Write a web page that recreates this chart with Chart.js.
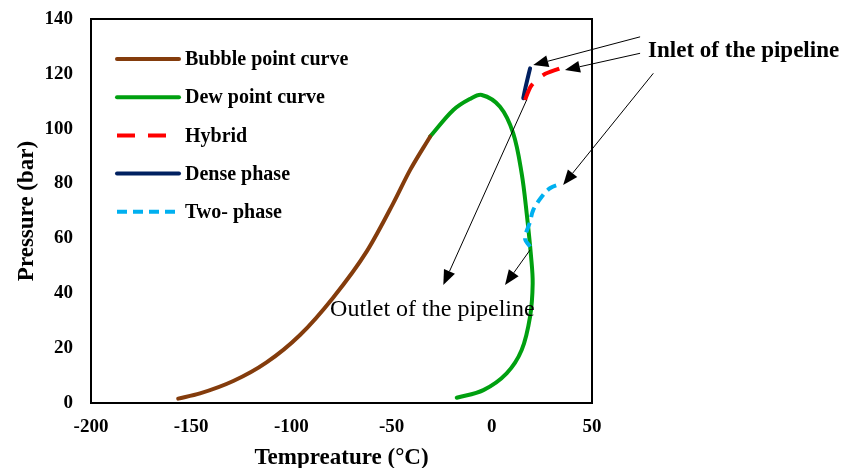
<!DOCTYPE html>
<html>
<head>
<meta charset="utf-8">
<script src="https://cdn.jsdelivr.net/npm/chart.js@4/dist/chart.umd.min.js"></script>
<style>
  html, body { margin: 0; padding: 0; background: #fff; }
  #wrap { width: 842px; height: 468px; }
</style>
</head>
<body>
<div id="wrap"><canvas id="myChart" width="842" height="468"></canvas></div>
<script>
// values (temperature in °C, pressure in bar)
var bubbleT = [-156.5, -145.6, -129, -112.4, -95.7, -79.1, -62.4, -49.2, -40.8, -30.8];
var bubbleP = [1.6, 3.5, 8.0, 14.8, 24.8, 38.5, 55.3, 72.8, 84.9, 97.1];

var dewT = [-30.8, -19.2, -11, -5, 4.1, 10.7, 14.9, 17.4, 19.6, 20.4, 19.1, 14.9, 7.4, -4.2, -17.5];
var dewP = [97.1, 106.8, 110.8, 112.3, 108, 98.3, 83.7, 69.2, 53.3, 43.6, 31.5, 19.3, 10.8, 4.7, 1.9];

var hybridT = [16.6, 18.2, 19.9, 25.7, 34.0];
var hybridP = [110.5, 113.5, 115.9, 119.6, 122.0];

var denseT = [15.7, 16.5, 17.6, 19.1];
var denseP = [111.1, 114, 117.5, 122];

var twoPhaseT = [19.1, 16.6, 19.1, 20.7, 24.9, 29.0, 34.9];
var twoPhaseP = [57.0, 60.0, 66.1, 70.4, 75.2, 78.3, 80.1];

var xTicks = [-200, -150, -100, -50, 0, 50];
var yTicks = [0, 20, 40, 60, 80, 100, 120, 140];

// annotations, in data units: [fromT, fromP, toT, toP]
var inletArrows = [[74, 133.5, 20.7, 123.2], [74, 127.5, 36.5, 121.4], [80.6, 120.2, 35.6, 79.5]];
var outletArrows = [[17.4, 110.5, -24.2, 43.0], [19.1, 55.8, 6.6, 43.0]];
var inletLabel = { text: 'Inlet of the pipeline', t: 78, p: 126.0 };
var outletLabel = { text: 'Outlet of the pipeline', t: -80.7, p: 31.7 };

function toPoints(xs, ys) {
  return xs.map(function(x, i) { return { x: x, y: ys[i] }; });
}

var SERIF = '"Liberation Serif", "Times New Roman", serif';

var framePlugin = {
  id: 'frame',
  afterDatasetsDraw: function(chart) {
    var a = chart.chartArea, ctx = chart.ctx;
    ctx.save();
    ctx.strokeStyle = '#000';
    ctx.lineWidth = 2;
    ctx.strokeRect(a.left, a.top, a.right - a.left, a.bottom - a.top);
    ctx.restore();
  }
};

var legendPlugin = {
  id: 'insideLegend',
  afterDraw: function(chart) {
    var a = chart.chartArea, ctx = chart.ctx;
    var x0 = a.left + 26, y0 = a.top + 40, step = 38.2;
    ctx.save();
    ctx.font = 'bold 20px ' + SERIF;
    ctx.textBaseline = 'middle';
    ctx.fillStyle = '#000';
    chart.data.datasets.forEach(function(ds, i) {
      var y = y0 + i * step;
      ctx.strokeStyle = ds.borderColor;
      ctx.lineWidth = ds.borderWidth;
      ctx.setLineDash(ds.borderDash || []);
      ctx.lineCap = ds.borderDash ? 'butt' : 'round';
      ctx.beginPath();
      ctx.moveTo(x0, y);
      ctx.lineTo(x0 + 62, y);
      ctx.stroke();
      ctx.setLineDash([]);
      ctx.fillText(ds.label, x0 + 68, y + 1);
    });
    ctx.restore();
  }
};

function drawArrow(ctx, x1, y1, x2, y2) {
  var ang = Math.atan2(y2 - y1, x2 - x1);
  var len = 15, half = 6;
  var bx = x2 - len * Math.cos(ang), by = y2 - len * Math.sin(ang);
  ctx.beginPath();
  ctx.moveTo(x1, y1);
  ctx.lineTo(bx, by);
  ctx.stroke();
  ctx.beginPath();
  ctx.moveTo(x2, y2);
  ctx.lineTo(bx + half * Math.sin(ang), by - half * Math.cos(ang));
  ctx.lineTo(bx - half * Math.sin(ang), by + half * Math.cos(ang));
  ctx.closePath();
  ctx.fill();
}

var notesPlugin = {
  id: 'notes',
  afterDraw: function(chart) {
    var sx = chart.scales.x, sy = chart.scales.y, ctx = chart.ctx;
    ctx.save();
    ctx.strokeStyle = '#000';
    ctx.fillStyle = '#000';
    ctx.lineWidth = 1;
    inletArrows.concat(outletArrows).forEach(function(r) {
      drawArrow(ctx, sx.getPixelForValue(r[0]), sy.getPixelForValue(r[1]),
                     sx.getPixelForValue(r[2]), sy.getPixelForValue(r[3]));
    });
    ctx.textBaseline = 'alphabetic';
    ctx.textAlign = 'left';
    ctx.font = 'bold 23px ' + SERIF;
    ctx.fillText(inletLabel.text, sx.getPixelForValue(inletLabel.t), sy.getPixelForValue(inletLabel.p));
    ctx.font = '24px ' + SERIF;
    ctx.fillText(outletLabel.text, sx.getPixelForValue(outletLabel.t), sy.getPixelForValue(outletLabel.p));
    ctx.restore();
  }
};

var ctx = document.getElementById('myChart');
var myChart = new Chart(ctx, {
  type: 'scatter',
  data: {
    datasets: [{
      label: 'Bubble point curve',
      data: toPoints(bubbleT, bubbleP),
      borderColor: '#843C0C',
      cubicInterpolationMode: 'monotone',
      order: 2
    }, {
      label: 'Dew point curve',
      data: toPoints(dewT, dewP),
      borderColor: '#00A010',
      tension: 0.35,
      order: 2
    }, {
      label: 'Hybrid',
      data: toPoints(hybridT, hybridP),
      borderColor: '#FF0000',
      borderDash: [18, 13],
      tension: 0.35,
      order: 1
    }, {
      label: 'Dense phase',
      data: toPoints(denseT, denseP),
      borderColor: '#002060',
      tension: 0.35,
      order: 1
    }, {
      label: 'Two- phase',
      data: toPoints(twoPhaseT, twoPhaseP),
      borderColor: '#00B0F0',
      borderDash: [10, 6],
      tension: 0.35,
      order: 0
    }].map(function(ds) {
      ds.showLine = true;
      ds.borderWidth = 4;
      ds.pointRadius = 0;
      ds.pointHoverRadius = 0;
      ds.borderCapStyle = ds.borderDash ? 'butt' : 'round';
      ds.borderJoinStyle = 'round';
      ds.backgroundColor = ds.borderColor;
      return ds;
    })
  },
  options: {
    responsive: false,
    animation: false,
    layout: { padding: { top: 19, right: 250, left: 0, bottom: 0 } },
    plugins: {
      legend: { display: false },
      tooltip: { enabled: false }
    },
    scales: {
      x: {
        type: 'linear',
        min: xTicks[0],
        max: xTicks[xTicks.length - 1],
        afterBuildTicks: function(s) { s.ticks = xTicks.map(function(v) { return { value: v }; }); },
        afterFit: function(s) { s.height = 65; },
        grid: { display: false, drawTicks: false },
        border: { display: false },
        ticks: { color: '#000', padding: 13, font: { family: SERIF, size: 19, weight: 'bold' } },
        title: {
          display: true,
          text: 'Tempreature (°C)',
          color: '#000',
          padding: { top: 0, bottom: 1 },
          font: { family: SERIF, size: 23, weight: 'bold', lineHeight: 0.8 }
        }
      },
      y: {
        type: 'linear',
        min: yTicks[0],
        max: yTicks[yTicks.length - 1],
        afterBuildTicks: function(s) { s.ticks = yTicks.map(function(v) { return { value: v }; }); },
        afterFit: function(s) { s.width = 91; s.paddingTop = 0; s.paddingBottom = 0; },
        grid: { display: false, drawTicks: false },
        border: { display: false },
        ticks: { color: '#000', padding: 18, font: { family: SERIF, size: 19, weight: 'bold' } },
        title: {
          display: true,
          text: 'Pressure (bar)',
          color: '#000',
          padding: { top: 13, bottom: 0 },
          font: { family: SERIF, size: 23, weight: 'bold' }
        }
      }
    }
  },
  plugins: [framePlugin, legendPlugin, notesPlugin]
});
</script>
</body>
</html>
